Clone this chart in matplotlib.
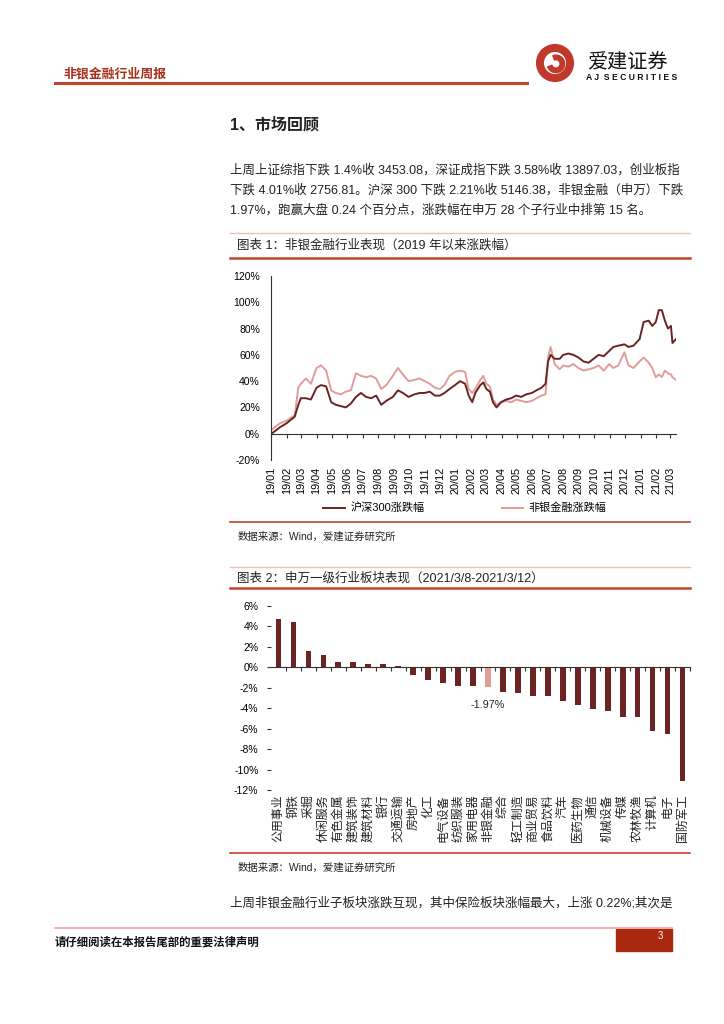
import numpy as np
import pandas as pd
import matplotlib
matplotlib.use("Agg")
import matplotlib.pyplot as plt
import matplotlib.dates as mdates
import matplotlib.patches as patches
from matplotlib.transforms import blended_transform_factory

plt.rcParams['font.family'] = ['Liberation Sans', 'Noto Sans CJK SC', 'DejaVu Sans']
plt.rcParams['axes.unicode_minus'] = False

# ---- chart 1 data: cumulative change since 2019 (%) ----
dates1 = ['2019-01-02', '2019-01-19', '2019-02-01', '2019-02-17', '2019-02-24', '2019-03-01',
          '2019-03-11', '2019-03-21', '2019-04-01', '2019-04-10', '2019-04-20', '2019-04-30',
          '2019-05-09', '2019-05-19', '2019-05-29', '2019-06-08', '2019-06-18', '2019-06-28',
          '2019-07-08', '2019-07-18', '2019-07-28', '2019-08-07', '2019-08-17', '2019-08-30',
          '2019-09-09', '2019-09-19', '2019-09-30', '2019-10-12', '2019-10-22', '2019-11-01',
          '2019-11-11', '2019-11-21', '2019-12-01', '2019-12-10', '2019-12-20', '2019-12-31',
          '2020-01-10', '2020-01-20', '2020-01-27', '2020-02-03', '2020-02-09', '2020-02-19',
          '2020-02-25', '2020-03-02', '2020-03-09', '2020-03-15', '2020-03-22', '2020-03-31',
          '2020-04-10', '2020-04-20', '2020-04-30', '2020-05-10', '2020-05-20', '2020-05-31',
          '2020-06-09', '2020-06-19', '2020-06-27', '2020-07-02', '2020-07-07', '2020-07-15',
          '2020-07-25', '2020-08-01', '2020-08-11', '2020-08-21', '2020-08-31', '2020-09-10',
          '2020-09-20', '2020-09-30', '2020-10-10', '2020-10-20', '2020-10-31', '2020-11-08',
          '2020-11-18', '2020-11-30', '2020-12-08', '2020-12-18', '2020-12-30', '2021-01-07',
          '2021-01-17', '2021-01-24', '2021-01-31', '2021-02-06', '2021-02-12', '2021-02-18',
          '2021-02-24', '2021-03-02', '2021-03-05', '2021-03-12']
hs300 = [0, 5, 8, 13, 22, 27,
         27, 26, 35, 37, 36, 24,
         22, 21, 20, 23, 28, 31,
         28, 27, 29, 22, 25, 28,
         33, 31, 28, 30, 31, 31,
         32, 29, 29, 31, 34, 37,
         40, 38, 29, 24, 31, 37,
         39, 34, 32, 24, 20, 24,
         26, 27, 29, 28, 30, 31,
         33, 35, 38, 55, 60, 57,
         57, 60, 61, 60, 58, 55,
         54, 57, 60, 59, 63, 66,
         67, 68, 66, 67, 72, 85,
         86, 82, 85, 94, 94, 86,
         80, 82, 69, 72]
finance = [3, 8, 10, 14, 35, 38,
           42, 38, 50, 52, 48, 33,
           31, 30, 32, 33, 46, 44,
           43, 44, 42, 34, 37, 44,
           50, 45, 40, 41, 42, 40,
           38, 35, 34, 37, 44, 47,
           48, 47, 34, 31, 34, 41,
           44, 38, 36, 26, 22, 24,
           25, 24, 26, 25, 24, 25,
           27, 29, 30, 58, 66, 53,
           49, 52, 51, 53, 50, 48,
           49, 50, 52, 48, 53, 50,
           52, 62, 52, 50, 55, 58,
           54, 50, 43, 45, 43, 48,
           46, 45, 43, 41]

# ---- chart 2 data: SW level-1 industries, weekly change (%) ----
industries = ['公用事业', '钢铁', '采掘', '休闲服务', '有色金属', '建筑装饰', '建筑材料',
              '银行', '交通运输', '房地产', '化工', '电气设备', '纺织服装', '家用电器',
              '非银金融', '综合', '轻工制造', '商业贸易', '食品饮料', '汽车', '医药生物',
              '通信', '机械设备', '传媒', '农林牧渔', '计算机', '电子', '国防军工']
weekly_chg = [4.7, 4.4, 1.6, 1.2, 0.5, 0.5, 0.3, 0.3, 0.1, -0.75, -1.25, -1.5, -1.85, -1.85,
              -1.97, -2.4, -2.5, -2.8, -2.8, -3.3, -3.7, -4.05, -4.25, -4.9, -4.9, -6.25,
              -6.5, -11.1]
y2_ticks = [6, 4, 2, 0, -2, -4, -6, -8, -10, -12]
y2_labels = ['6%', '4%', '2%', '0%', '-2%', '-4%', '-6%', '-8%', '-10%', '-12%']

DARK = '#6B2323'
LIGHT = '#E29C9A'
RED = '#C0462B'
TXT = '#222222'

W, H = 724, 1024
fig = plt.figure(figsize=(7.24, 10.24), dpi=100)


def fy(y):
    return 1 - y / H


def fx(x):
    return x / W


def hline(x0, x1, y, color, lw):
    fig.add_artist(plt.Line2D([fx(x0), fx(x1)], [fy(y), fy(y)], color=color, lw=lw,
                              transform=fig.transFigure))


# header
fig.text(fx(63), fy(74), '非银金融行业周报', fontsize=9.3, color='#A8321E', fontweight='bold',
         va='center', family=['Noto Sans CJK SC'])
hline(55, 527, 83, RED, 2.2)
logo = fig.add_axes([fx(534), fy(84), fx(42), 42 / H])
logo.set_xlim(-1.2, 1.2)
logo.set_ylim(-1.2, 1.2)
logo.set_aspect('equal')
logo.axis('off')
logo.add_patch(patches.Wedge((0, 0), 1.05, 0, 360, width=0.38, color='#C0392B'))
logo.add_patch(patches.Wedge((0.05, -0.05), 0.5, 200, 110, width=0.26, color='#C0392B'))
fig.text(fx(587), fy(63), '爱建证券', fontsize=14.5, color='#111111', va='center',
         family=['Noto Sans CJK SC'])
fig.text(fx(586), fy(78), 'A J  S E C U R I T I E S', fontsize=6.2, color='#111111', va='center',
         fontweight='bold')

# section title and paragraph
fig.text(fx(230), fy(125), '1、市场回顾', fontsize=11.5, fontweight='bold', va='center', color=TXT)
para = ['上周上证综指下跌 1.4%收 3453.08，深证成指下跌 3.58%收 13897.03，创业板指',
        '下跌 4.01%收 2756.81。沪深 300 下跌 2.21%收 5146.38，非银金融（申万）下跌',
        '1.97%，跑赢大盘 0.24 个百分点，涨跌幅在申万 28 个子行业中排第 15 名。']
for i, line in enumerate(para):
    fig.text(fx(230), fy(170 + 20 * i), line, fontsize=9.0, va='center', color=TXT)

# chart 1 frame
hline(230, 690, 233, '#EBC0B5', 1.0)
fig.text(fx(237), fy(245), '图表 1：非银金融行业表现（2019 年以来涨跌幅）', fontsize=9.0,
         va='center', color=TXT)
hline(230, 690, 258, RED, 1.8)

ax1 = fig.add_axes([fx(271), fy(460), fx(676 - 271), (460 - 276) / H])
d1 = pd.to_datetime(dates1)
ax1.plot(d1, hs300, color=DARK, lw=1.4, label='沪深300涨跌幅')
ax1.plot(d1, finance, color=LIGHT, lw=1.4, label='非银金融涨跌幅', zorder=1)
ax1.set_ylim(-20, 120)
ax1.set_xlim(pd.Timestamp('2019-01-01'), pd.Timestamp('2021-03-12'))
ax1.set_yticks(np.arange(-20, 121, 20))
ax1.set_yticklabels([f'{v}%' for v in range(-20, 121, 20)])
for s in ['top', 'right']:
    ax1.spines[s].set_visible(False)
ax1.spines['bottom'].set_position(('data', 0))
ax1.spines['left'].set_color('#333333')
ax1.spines['bottom'].set_color('#333333')
ax1.xaxis.set_major_locator(mdates.MonthLocator())
ax1.xaxis.set_major_formatter(mdates.DateFormatter('%y/%m'))
ax1.tick_params(axis='x', direction='out', length=3, rotation=90, labelsize=7.8, pad=21,
                color='#333333')
ax1.tick_params(axis='y', direction='in', length=0, labelsize=7.5, pad=8)
for lbl in ax1.get_xticklabels():
    lbl.set_va('top')
fig.legend(loc='center', bbox_to_anchor=(fx(465), fy(508)), ncol=2, frameon=False,
           fontsize=8, handlelength=1.9, columnspacing=7.0, handletextpad=0.5)
hline(230, 690, 522, RED, 1.2)
fig.text(fx(238), fy(537), '数据来源：Wind，爱建证券研究所', fontsize=7.5, va='center', color=TXT)

# chart 2 frame
hline(230, 690, 567, '#EBC0B5', 1.0)
fig.text(fx(237), fy(578), '图表 2：申万一级行业板块表现（2021/3/8-2021/3/12）', fontsize=9.0,
         va='center', color=TXT)
hline(230, 690, 588, RED, 1.8)

ax2 = fig.add_axes([fx(271), fy(790), fx(690 - 271), (790 - 606) / H])
xs = np.arange(len(industries))
colors = [LIGHT if n == '非银金融' else DARK for n in industries]
ax2.bar(xs, weekly_chg, width=0.38, color=colors)
ax2.set_xlim(-0.5, len(industries) - 0.5)
ax2.set_ylim(-12, 6)
ax2.set_yticks(y2_ticks)
ax2.set_yticklabels(y2_labels)
for s in ['top', 'right', 'left']:
    ax2.spines[s].set_visible(False)
ax2.spines['bottom'].set_position(('data', 0))
ax2.spines['bottom'].set_color('#333333')
ax2.set_xticks(xs + 0.5)
ax2.set_xticklabels([])
ax2.tick_params(axis='x', direction='out', length=3, color='#333333')
ax2.tick_params(axis='y', direction='out', length=3, labelsize=7.5, color='#333333', pad=6)
tr = blended_transform_factory(ax2.transData, ax2.transAxes)
for x, name in zip(xs, industries):
    ax2.text(x, -0.025, name, rotation=90, ha='center', va='top', fontsize=8.6,
             transform=tr, color=TXT)
fin_i = industries.index('非银金融')
ax2.annotate(f'{weekly_chg[fin_i]:.2f}%', (fin_i, weekly_chg[fin_i]), xytext=(0, -9),
             textcoords='offset points', ha='center', va='top', fontsize=7.8, color=TXT)
hline(230, 690, 853, RED, 1.2)
fig.text(fx(238), fy(868), '数据来源：Wind，爱建证券研究所', fontsize=7.5, va='center', color=TXT)

fig.text(fx(230), fy(903), '上周非银金融行业子板块涨跌互现，其中保险板块涨幅最大，上涨 0.22%;其次是',
         fontsize=9.0, va='center', color=TXT)

# footer
hline(55, 672, 928, '#F5A3A3', 1.2)
fig.text(fx(55), fy(942), '请仔细阅读在本报告尾部的重要法律声明', fontsize=8.2, fontweight='bold',
         va='center', color='#111111', family=['Noto Sans CJK SC'])
fig.add_artist(patches.Rectangle((fx(616), fy(951)), fx(56), 22 / H, color='#A8290F',
                                 transform=fig.transFigure))
fig.text(fx(660), fy(936), '3', fontsize=7, color='white', va='center', ha='center')

fig.savefig('out.png', dpi=100)
